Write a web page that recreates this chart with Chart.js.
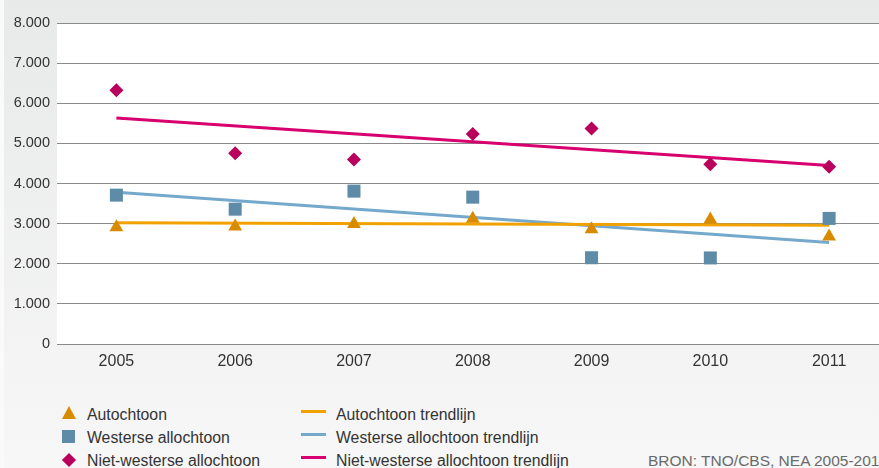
<!DOCTYPE html>
<html>
<head>
<meta charset="utf-8">
<script src="https://cdn.jsdelivr.net/npm/chart.js@4.4.1/dist/chart.umd.min.js"></script>
<style>
  html, body { margin: 0; padding: 0; }
  body {
    width: 879px; height: 468px; overflow: hidden; position: relative;
    background: linear-gradient(#e8e9e9, #f7f7f7);
    font-family: "Liberation Sans", Arial, sans-serif; color: #333;
  }
  #edge { position: absolute; left: 0; top: 0; width: 4px; height: 468px; background: #fafafa; }
  #wrap { position: absolute; left: 0; top: 0; width: 879px; height: 380px; }
  #chart { display: block; }
  .leg { position: absolute; font-size: 15.8px; line-height: 18px; white-space: nowrap; }
  .sym { position: absolute; }
  #bron { position: absolute; left: 648px; top: 452px; font-size: 15.5px; color: #6a6a6a; white-space: nowrap; }
</style>
</head>
<body>
<div id="edge"></div>
<div id="wrap"><canvas id="chart" width="879" height="380" style="width:879px;height:380px"></canvas></div>
<div id="legend"></div>
<div id="bron">BRON: TNO/CBS, NEA 2005-2011</div>
<script>
const years = [2005, 2006, 2007, 2008, 2009, 2010, 2011];
const autochtoon = [2910, 2930, 2990, 3120, 2860, 3100, 2680];
const westers = [3710, 3360, 3810, 3660, 2150, 2145, 3130];
const nietWesters = [6325, 4755, 4600, 5235, 5370, 4480, 4415];

const trendYears = [2005, 2011];
const autochtoonTrend = [3020, 2960];
const westersTrend = [3780, 2530];
const nietWestersTrend = [5630, 4450];

const pointLabels = ['Autochtoon', 'Westerse allochtoon', 'Niet-westerse allochtoon'];
const trendLabels = ['Autochtoon trendlijn', 'Westerse allochtoon trendlijn', 'Niet-westerse allochtoon trendlijn'];

const markerColors = ['#d98b00', '#5e8ca8', '#b8005c'];
const lineColors = ['#f2a200', '#74a9cc', '#d8006f'];

const pts = (xs, ys) => xs.map((x, i) => ({ x: x, y: ys[i] }));

const plotBg = {
  id: 'plotBg',
  beforeDraw(chart) {
    const a = chart.chartArea, ctx = chart.ctx;
    ctx.save();
    ctx.fillStyle = '#ffffff';
    ctx.fillRect(a.left, a.top, chart.width - a.left, a.bottom - a.top);
    ctx.restore();
  }
};

new Chart(document.getElementById('chart'), {
  type: 'scatter',
  data: {
    datasets: [
      { label: pointLabels[0], data: pts(years, autochtoon), pointStyle: 'triangle', pointRadius: 8,
        backgroundColor: markerColors[0], borderColor: markerColors[0], borderWidth: 0 },
      { label: pointLabels[1], data: pts(years, westers), pointStyle: 'rect', pointRadius: 9.2,
        backgroundColor: markerColors[1], borderColor: markerColors[1], borderWidth: 0 },
      { label: pointLabels[2], data: pts(years, nietWesters), pointStyle: 'rectRot', pointRadius: 7,
        backgroundColor: markerColors[2], borderColor: markerColors[2], borderWidth: 0 },
      { label: trendLabels[0], data: pts(trendYears, autochtoonTrend), showLine: true, pointRadius: 0,
        borderColor: lineColors[0], borderWidth: 3 },
      { label: trendLabels[1], data: pts(trendYears, westersTrend), showLine: true, pointRadius: 0,
        borderColor: lineColors[1], borderWidth: 3 },
      { label: trendLabels[2], data: pts(trendYears, nietWestersTrend), showLine: true, pointRadius: 0,
        borderColor: lineColors[2], borderWidth: 3 }
    ]
  },
  options: {
    responsive: false,
    animation: false,
    maintainAspectRatio: false,
    devicePixelRatio: 1,
    layout: { autoPadding: false, padding: { top: 23, right: 0, left: 0, bottom: 0 } },
    plugins: { legend: { display: false }, tooltip: { enabled: false } },
    scales: {
      x: {
        type: 'linear', min: 2004.5, max: 2011.42,
        afterBuildTicks: ax => { ax.ticks = years.map(v => ({ value: v })); },
        afterFit: s => { s.height = 36; s.paddingLeft = 0; s.paddingRight = 0; },
        grid: { display: false, drawTicks: false },
        border: { display: false },
        ticks: { padding: 8, color: '#333', autoSkip: false, maxRotation: 0, minRotation: 0,
                 font: { family: '"Liberation Sans", Arial', size: 16 },
                 callback: v => String(v) }
      },
      y: {
        min: 0, max: 8000,
        afterFit: s => { s.width = 57; },
        grid: { color: '#8a8a8a', lineWidth: 1, drawTicks: false },
        border: { display: false },
        ticks: { stepSize: 1000, padding: 7, color: '#333', font: { family: '"Liberation Sans", Arial', size: 14.5 },
                 callback: v => v === 0 ? '0' : (v / 1000) + '.000' }
      }
    }
  },
  plugins: [plotBg]
});

// legend
const legend = document.getElementById('legend');
const rowTop = [406, 429, 452];
pointLabels.forEach((txt, i) => {
  const t = document.createElement('div');
  t.className = 'leg'; t.textContent = txt;
  t.style.left = '87px'; t.style.top = rowTop[i] + 'px';
  legend.appendChild(t);
  const s = document.createElement('div');
  s.className = 'sym';
  if (i === 0) {
    s.style.cssText = 'left:62px;top:' + rowTop[i] + 'px;width:0;height:0;border-left:7px solid transparent;border-right:7px solid transparent;border-bottom:13px solid ' + markerColors[0];
  } else if (i === 1) {
    s.style.cssText = 'left:62px;top:' + (rowTop[i] + 1) + 'px;width:13px;height:13px;background:' + markerColors[1];
  } else {
    s.style.cssText = 'left:64px;top:' + (rowTop[i] + 3) + 'px;width:10px;height:10px;transform:rotate(45deg);background:' + markerColors[2];
  }
  legend.appendChild(s);
});
trendLabels.forEach((txt, i) => {
  const t = document.createElement('div');
  t.className = 'leg'; t.textContent = txt;
  t.style.left = '336px'; t.style.top = rowTop[i] + 'px';
  legend.appendChild(t);
  const s = document.createElement('div');
  s.className = 'sym';
  s.style.cssText = 'left:301px;top:' + (rowTop[i] + 4) + 'px;width:25px;height:3px;background:' + lineColors[i];
  legend.appendChild(s);
});
</script>
</body>
</html>
